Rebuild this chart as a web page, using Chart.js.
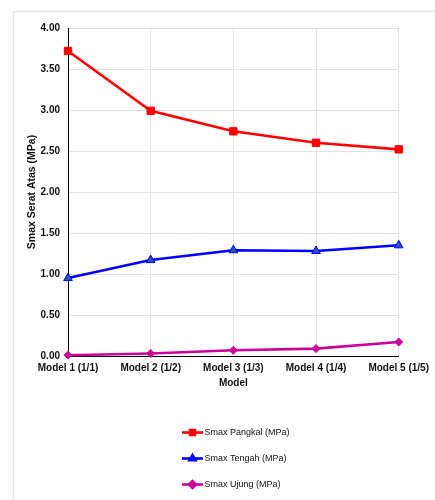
<!DOCTYPE html>
<html>
<head>
<meta charset="utf-8">
<script src="https://cdn.jsdelivr.net/npm/chart.js@4.4.1/dist/chart.umd.min.js"></script>
<style>
  html, body { margin: 0; padding: 0; background: #fff; }
  #wrap { position: relative; width: 435px; height: 500px; }
</style>
</head>
<body>
<div id="wrap"><canvas id="c" width="435" height="500"></canvas></div>
<script>
// Categories and series values
const models = ['Model 1 (1/1)', 'Model 2 (1/2)', 'Model 3 (1/3)', 'Model 4 (1/4)', 'Model 5 (1/5)'];
const smaxPangkal = [3.72, 2.99, 2.74, 2.60, 2.52];
const smaxTengah  = [0.95, 1.17, 1.29, 1.28, 1.35];
const smaxUjung   = [0.01, 0.03, 0.07, 0.09, 0.17];
const seriesLabels = ['Smax Pangkal (MPa)', 'Smax Tengah (MPa)', 'Smax Ujung (MPa)'];
const yTickValues = [0, 0.5, 1, 1.5, 2, 2.5, 3, 3.5, 4];

const FONT = '"Liberation Sans", Arial, Helvetica, sans-serif';
const GRID = '#dfe2e9';

// Light frame around the chart
const framePlugin = {
  id: 'frame',
  beforeDraw(chart) {
    const ctx = chart.ctx;
    ctx.save();
    ctx.strokeStyle = '#e4e6eb';
    ctx.lineWidth = 1.5;
    ctx.beginPath();
    ctx.moveTo(13.5, chart.height);
    ctx.lineTo(13.5, 11.5);
    ctx.lineTo(chart.width, 11.5);
    ctx.stroke();
    ctx.restore();
  }
};

// Stacked legend below the plot: line sample with marker, then the label
const stackedLegend = {
  id: 'stackedLegend',
  afterDraw(chart, args, opts) {
    const ctx = chart.ctx;
    ctx.save();
    chart.data.datasets.forEach((ds, i) => {
      const y = opts.top + i * opts.rowGap;
      const x0 = opts.left;
      const x1 = x0 + opts.lineLen;
      ctx.strokeStyle = ds.borderColor;
      ctx.lineWidth = ds.borderWidth;
      ctx.beginPath();
      ctx.moveTo(x0, y);
      ctx.lineTo(x1, y);
      ctx.stroke();
      ctx.fillStyle = ds.pointBackgroundColor;
      ctx.strokeStyle = ds.pointBorderColor;
      Chart.helpers.drawPoint(ctx, {
        pointStyle: ds.pointStyle,
        radius: opts.markerRadius,
        rotation: 0,
        borderWidth: 1
      }, (x0 + x1) / 2, y);
      ctx.fillStyle = '#111';
      ctx.font = '9px ' + FONT;
      ctx.textBaseline = 'middle';
      ctx.textAlign = 'left';
      ctx.fillText(ds.label, x1 + 1.5, y);
    });
    ctx.restore();
  }
};

new Chart(document.getElementById('c'), {
  type: 'line',
  data: {
    labels: models,
    datasets: [
      {
        label: seriesLabels[0],
        data: smaxPangkal,
        borderColor: '#ff0000',
        backgroundColor: '#ff0000',
        pointBackgroundColor: '#ff0000',
        pointBorderColor: '#ff0000',
        pointStyle: 'rect',
        pointRadius: 5.2,
        pointBorderWidth: 1,
        borderWidth: 2.6,
        tension: 0,
        clip: false
      },
      {
        label: seriesLabels[1],
        data: smaxTengah,
        borderColor: '#0000ff',
        backgroundColor: '#0000ff',
        pointBackgroundColor: '#2f4fb8',
        pointBorderColor: '#0000ff',
        pointStyle: 'triangle',
        pointRadius: 5,
        pointBorderWidth: 1,
        borderWidth: 2.6,
        tension: 0,
        clip: false
      },
      {
        label: seriesLabels[2],
        data: smaxUjung,
        borderColor: '#cc0099',
        backgroundColor: '#cc0099',
        pointBackgroundColor: '#cc0099',
        pointBorderColor: '#cc0099',
        pointStyle: 'rectRot',
        pointRadius: 4,
        pointBorderWidth: 1,
        borderWidth: 2.6,
        tension: 0,
        clip: false
      }
    ]
  },
  options: {
    responsive: false,
    animation: false,
    devicePixelRatio: 1,
    layout: { padding: { left: 0, right: 36, top: 28, bottom: 104 } },
    plugins: {
      legend: { display: false },
      tooltip: { enabled: false },
      stackedLegend: { left: 182, top: 432.5, rowGap: 26, lineLen: 21, markerRadius: 3.4 }
    },
    scales: {
      x: {
        offset: false,
        grid: { color: GRID, lineWidth: 1, drawTicks: false },
        border: { color: '#000', width: 1 },
        ticks: {
          color: '#111',
          padding: 6,
          maxRotation: 0,
          autoSkip: false,
          font: { family: FONT, size: 10, weight: 'bold' }
        },
        title: {
          display: true,
          text: 'Model',
          color: '#111',
          padding: { top: 0, bottom: 7 },
          font: { family: FONT, size: 10, weight: 'bold' }
        },
        afterFit(scale) { scale.height = 40; }
      },
      y: {
        min: 0,
        max: 4,
        grid: { color: GRID, lineWidth: 1, drawTicks: false },
        border: { color: '#000', width: 1 },
        afterBuildTicks(scale) { scale.ticks = yTickValues.map(v => ({ value: v })); },
        ticks: {
          color: '#111',
          padding: 8,
          callback: v => Number(v).toFixed(2),
          font: { family: FONT, size: 10, weight: 'bold' }
        },
        title: {
          display: true,
          text: 'Smax Serat Atas (MPa)',
          color: '#111',
          padding: { top: 26, bottom: 0 },
          font: { family: FONT, size: 10.5, weight: 'bold' }
        },
        afterFit(scale) { scale.width = 68; }
      }
    }
  },
  plugins: [framePlugin, stackedLegend]
});
</script>
</body>
</html>
